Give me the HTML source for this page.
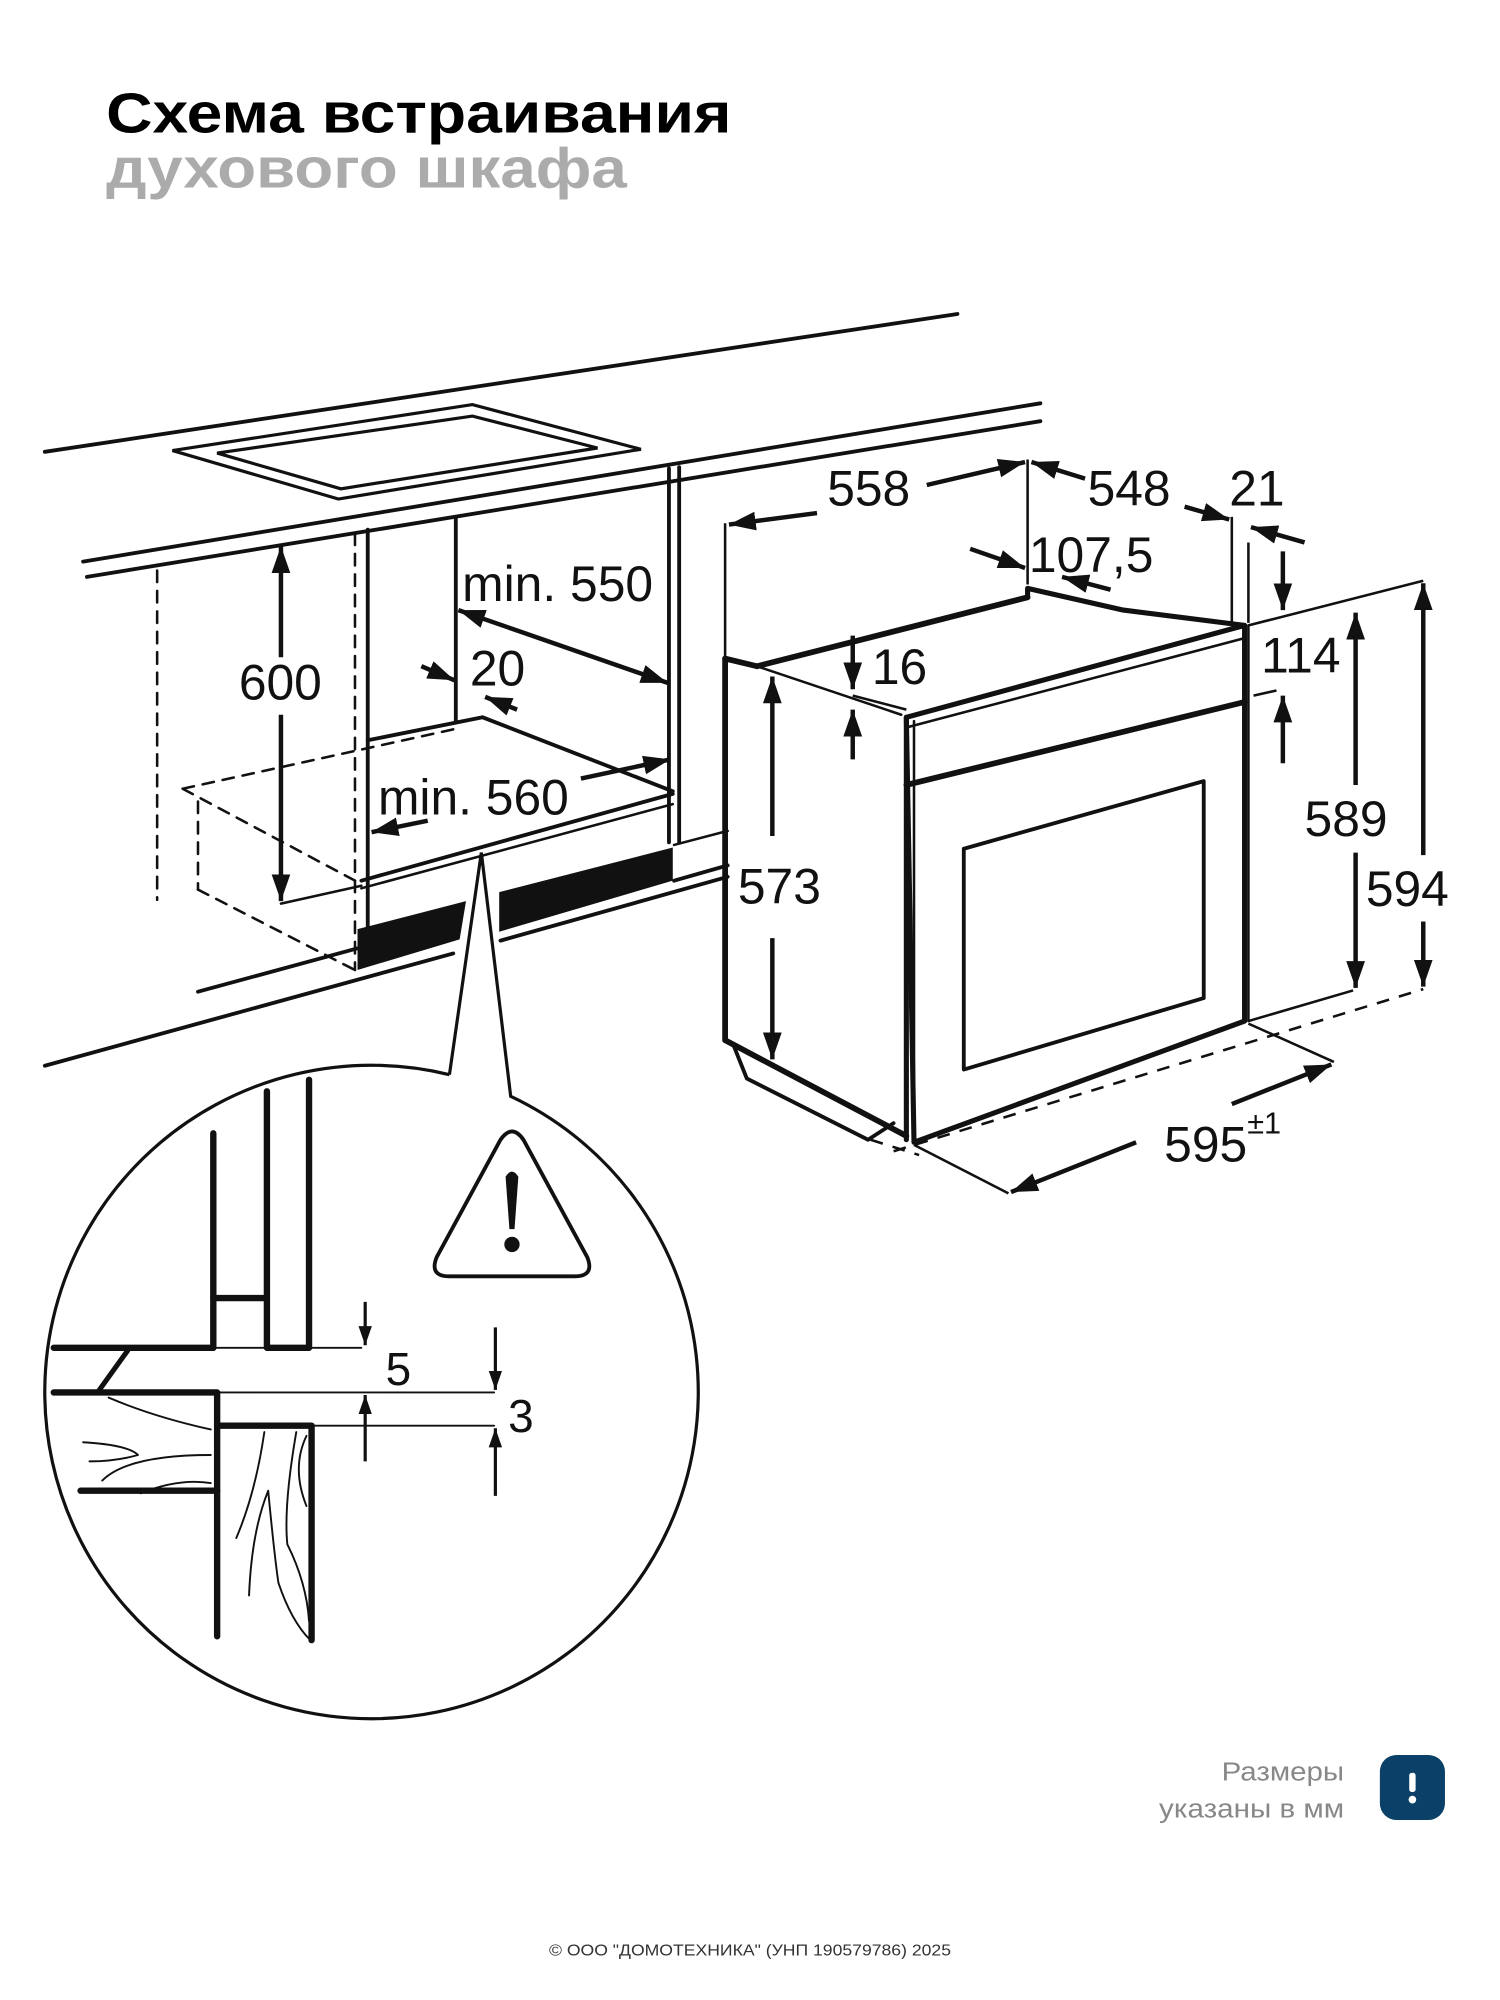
<!DOCTYPE html>
<html><head><meta charset="utf-8"><style>
html,body{margin:0;padding:0;background:#fff;}
svg{display:block;}
</style></head><body>
<svg width="1500" height="2000" viewBox="0 0 1175 1567" xmlns="http://www.w3.org/2000/svg" font-family="Liberation Sans, sans-serif">
<defs>
<marker id="a" viewBox="0 0 10 10" refX="10" refY="5" markerWidth="6" markerHeight="6" orient="auto-start-reverse" markerUnits="strokeWidth"><path d="M0,1.5 L10,5 L0,8.5 z" fill="#111"/></marker>
</defs>
<text x="83" y="104" font-size="44" font-weight="bold" fill="#000" textLength="490" lengthAdjust="spacingAndGlyphs" font-family="Liberation Sans, DejaVu Sans, sans-serif">Схема встраивания</text>
<text x="83" y="147" font-size="44" font-weight="bold" fill="#ababab" textLength="408" lengthAdjust="spacingAndGlyphs" font-family="Liberation Sans, DejaVu Sans, sans-serif">духового шкафа</text>

<g stroke="#111" fill="none" stroke-width="3" stroke-linecap="round">
<line x1="35" y1="354" x2="750" y2="246"/>
<line x1="65" y1="440" x2="815" y2="316"/>
<line x1="68" y1="452" x2="815" y2="330"/>
<polygon points="135,353 370,317 502,352 265,391" stroke-width="2.5"/>
<polygon points="170,355 370,326 468,351 267,383" stroke-width="2.5"/>
<line x1="123" y1="447" x2="123" y2="705" stroke-dasharray="9,7" stroke-width="2"/>
<line x1="278" y1="418" x2="278" y2="760" stroke-dasharray="9,7" stroke-width="2"/>
<line x1="288" y1="415" x2="288" y2="728"/>
<line x1="357" y1="405" x2="357" y2="565"/>
<line x1="524" y1="367" x2="524" y2="660"/>
<line x1="532" y1="366" x2="532" y2="660"/>
<polyline points="288,580 378,562 527,620"/>
<line x1="283" y1="690" x2="527" y2="622"/>
<line x1="283" y1="696" x2="527" y2="630" stroke-width="2"/>
<g stroke-dasharray="9,7" stroke-width="2">
<line x1="143" y1="618" x2="357" y2="571"/>
<line x1="143" y1="618" x2="278" y2="690"/>
<line x1="155" y1="628" x2="155" y2="697"/>
<line x1="155" y1="697" x2="278" y2="760"/>
</g>
<line x1="220" y1="708" x2="283" y2="694" stroke-width="2"/>
<line x1="155" y1="777" x2="280" y2="743"/>
<line x1="35" y1="835" x2="355" y2="747"/>
<line x1="392" y1="737" x2="570" y2="687"/>
<line x1="528" y1="690" x2="570" y2="678"/>
<line x1="528" y1="662" x2="570" y2="651" stroke-width="2"/>
</g>
<polygon points="280,728 365,706 360,736 280,760" fill="#111"/>
<polygon points="391,699 527,664 527,690 391,730" fill="#111"/>

<g stroke="#111" stroke-width="3.5" fill="none">
<line x1="220" y1="428" x2="220" y2="515" marker-start="url(#a)"/>
<line x1="220" y1="560" x2="220" y2="706" marker-end="url(#a)"/>
<line x1="359" y1="478" x2="523" y2="535" marker-start="url(#a)" marker-end="url(#a)"/>
<line x1="330" y1="522" x2="356" y2="533" marker-end="url(#a)"/>
<line x1="405" y1="556" x2="380" y2="546" marker-end="url(#a)"/>
<line x1="455" y1="610" x2="525" y2="595" marker-end="url(#a)"/>
<line x1="335" y1="643" x2="291" y2="652" marker-end="url(#a)"/>
</g>
<g font-size="39" fill="#111">
<text x="187" y="548">600</text>
<text x="362" y="471">min. 550</text>
<text x="368" y="537">20</text>
<text x="296" y="638">min. 560</text>
</g>

<g stroke="#111" fill="none" stroke-linecap="round" stroke-linejoin="round">
<polyline points="568,516 568,815 710,890" stroke-width="4.5"/>
<line x1="568" y1="516" x2="593" y2="522" stroke-width="4.5"/>
<line x1="593" y1="522" x2="805" y2="468" stroke-width="4.5"/>
<polyline points="805,468 805,461 880,478 975,490" stroke-width="4"/>
<line x1="593" y1="522" x2="706" y2="560" stroke-width="2"/>
<polygon points="710,562 975,490 975,800 716,895" stroke-width="4"/>
<line x1="716" y1="565" x2="716" y2="893" stroke-width="2"/>
<line x1="710" y1="562" x2="710" y2="893" stroke-width="4"/>
<line x1="710" y1="615" x2="975" y2="550" stroke-width="4.5"/>
<line x1="710" y1="570" x2="975" y2="500" stroke-width="2"/>
<polygon points="755,665 943,612 943,782 755,838" stroke-width="3"/>
<polyline points="575,820 585,845 680,893 700,880" stroke-width="3"/>
<line x1="978" y1="490" x2="978" y2="800" stroke-width="2"/>
</g>
<g stroke="#111" fill="none" stroke-width="2">
<line x1="568" y1="410" x2="568" y2="514"/>
<line x1="805" y1="360" x2="805" y2="458"/>
<line x1="965" y1="405" x2="965" y2="488"/>
<line x1="978" y1="425" x2="978" y2="488"/>
<line x1="978" y1="490" x2="1115" y2="455"/>
<line x1="982" y1="545" x2="1000" y2="541"/>
<line x1="668" y1="545" x2="710" y2="556"/>
<line x1="978" y1="800" x2="1060" y2="776"/>
<line x1="716" y1="897" x2="790" y2="935"/>
<line x1="978" y1="802" x2="1045" y2="832"/>
<g stroke-dasharray="10,8">
<line x1="700" y1="902" x2="1115" y2="775"/>
<line x1="682" y1="893" x2="720" y2="905"/>
</g>
</g>
<g stroke="#111" fill="none" stroke-width="3.5">
<line x1="640" y1="402" x2="571" y2="411" marker-end="url(#a)"/>
<line x1="726" y1="380" x2="803" y2="362" marker-end="url(#a)"/>
<line x1="850" y1="375" x2="808" y2="362" marker-end="url(#a)"/>
<line x1="928" y1="397" x2="963" y2="407" marker-end="url(#a)"/>
<line x1="1022" y1="425" x2="980" y2="413" marker-end="url(#a)"/>
<line x1="1005" y1="432" x2="1005" y2="478" marker-end="url(#a)"/>
<line x1="1005" y1="598" x2="1005" y2="545" marker-end="url(#a)"/>
<line x1="760" y1="430" x2="803" y2="445" marker-end="url(#a)"/>
<line x1="870" y1="462" x2="832" y2="452" marker-end="url(#a)"/>
<line x1="668" y1="498" x2="668" y2="540" marker-end="url(#a)"/>
<line x1="668" y1="595" x2="668" y2="556" marker-end="url(#a)"/>
<line x1="605" y1="655" x2="605" y2="530" marker-end="url(#a)"/>
<line x1="605" y1="735" x2="605" y2="830" marker-end="url(#a)"/>
<line x1="1062" y1="615" x2="1062" y2="480" marker-end="url(#a)"/>
<line x1="1062" y1="668" x2="1062" y2="774" marker-end="url(#a)"/>
<line x1="1115" y1="670" x2="1115" y2="457" marker-end="url(#a)"/>
<line x1="1115" y1="722" x2="1115" y2="773" marker-end="url(#a)"/>
<line x1="890" y1="895" x2="792" y2="934" marker-end="url(#a)"/>
<line x1="965" y1="865" x2="1043" y2="834" marker-end="url(#a)"/>
</g>
<g font-size="39" fill="#111">
<text x="648" y="396">558</text>
<text x="852" y="396">548</text>
<text x="963" y="396">21</text>
<text x="806" y="448">107,5</text>
<text x="683" y="536">16</text>
<text x="578" y="708">573</text>
<text x="988" y="527">114</text>
<text x="1022" y="655">589</text>
<text x="1070" y="710">594</text>
<text x="912" y="910">595<tspan font-size="24" dy="-22">±1</tspan></text>
</g>

<path d="M352,842 L377,668 L400,859 A256,256 0 1 1 352,842" stroke="#111" fill="none" stroke-width="2.5"/>
<g stroke="#111" fill="none" stroke-linecap="round" stroke-linejoin="round">
<line x1="167" y1="888" x2="167" y2="1056" stroke-width="5"/>
<polyline points="209,855 209,1056 242,1056 242,846" stroke-width="5"/>
<line x1="167" y1="1017" x2="209" y2="1017" stroke-width="5"/>
<line x1="42" y1="1056" x2="167" y2="1056" stroke-width="5"/>
<line x1="100" y1="1058" x2="77" y2="1090" stroke-width="4"/>
<polyline points="42,1091 170,1091 170,1282" stroke-width="5"/>
<polyline points="170,1117 244,1117 244,1285" stroke-width="5"/>
<line x1="63" y1="1168" x2="170" y2="1168" stroke-width="5"/>
<line x1="167" y1="1056" x2="283" y2="1056" stroke-width="1.5"/>
<line x1="170" y1="1091" x2="387" y2="1091" stroke-width="1.5"/>
<line x1="244" y1="1117" x2="387" y2="1117" stroke-width="1.5"/>
<g stroke-width="1.5">
<path d="M85,1095 Q120,1110 165,1120"/>
<path d="M65,1130 Q100,1132 108,1140 Q90,1145 70,1145"/>
<path d="M80,1160 Q100,1140 165,1140"/>
<path d="M110,1170 Q140,1158 165,1162"/>
<path d="M207,1122 Q200,1170 185,1205"/>
<path d="M232,1122 Q222,1180 225,1210 Q240,1240 242,1270"/>
<path d="M240,1125 Q228,1150 240,1180"/>
<path d="M195,1250 Q197,1200 210,1168 Q215,1220 218,1240 Q228,1270 243,1285"/>
</g>
</g>
<g stroke="#111" fill="none" stroke-width="2.5">
<line x1="286" y1="1020" x2="286" y2="1054" marker-end="url(#a)"/>
<line x1="286" y1="1145" x2="286" y2="1093" marker-end="url(#a)"/>
<line x1="388" y1="1040" x2="388" y2="1089" marker-end="url(#a)"/>
<line x1="388" y1="1172" x2="388" y2="1119" marker-end="url(#a)"/>
</g>
<text x="302" y="1085" font-size="36" fill="#111">5</text>
<text x="398" y="1122" font-size="36" fill="#111">3</text>
<path d="M392,893 Q401,880 410,893 L460,985 Q466,1000 450,1000 L352,1000 Q336,1000 342,985 Z" fill="#fff" stroke="#111" stroke-width="3"/>
<path d="M396,922 Q401,914 406,922 L403,963 L399,963 Z" fill="#111"/>
<circle cx="401" cy="975" r="6" fill="#111"/>

<text x="1053" y="1395" font-size="20" fill="#888" text-anchor="end" textLength="96" lengthAdjust="spacingAndGlyphs">Размеры</text>
<text x="1053" y="1424" font-size="20" fill="#888" text-anchor="end" textLength="145" lengthAdjust="spacingAndGlyphs">указаны в мм</text>
<rect x="1081" y="1375" width="51" height="51" rx="13" fill="#0b4069"/>
<rect x="1104" y="1389" width="5" height="15" rx="2" fill="#fff"/>
<circle cx="1106.5" cy="1410" r="3" fill="#fff"/>
<text x="430" y="1532" font-size="12" fill="#333" textLength="315" lengthAdjust="spacingAndGlyphs">© ООО "ДОМОТЕХНИКА" (УНП 190579786) 2025</text>
</svg>
</body></html>
